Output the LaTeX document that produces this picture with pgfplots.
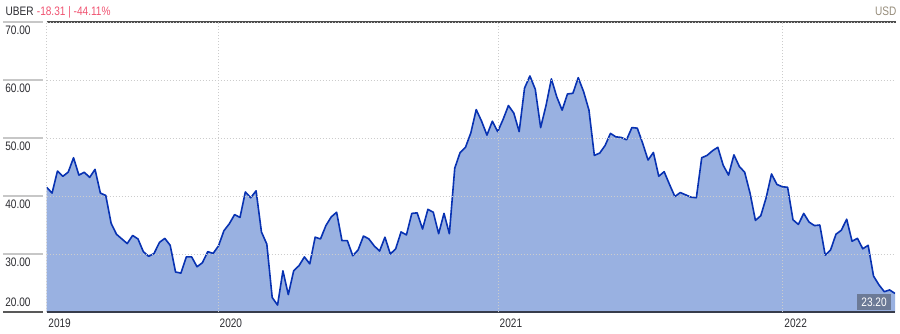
\documentclass[border=0pt]{standalone}
\usepackage{pgfplots}
\pgfplotsset{compat=1.18}
\usepackage{pgfplotstable}
\usepackage{fontspec}
\setmainfont{Liberation Sans}[FakeStretch=0.82]
\definecolor{fillc}{RGB}{153,177,225}
\definecolor{linec}{RGB}{8,50,178}
\definecolor{redc}{RGB}{240,82,112}
\definecolor{usdc}{RGB}{150,140,122}
\definecolor{boxc}{RGB}{108,122,150}
\definecolor{txt}{RGB}{45,45,50}
\definecolor{axc}{RGB}{55,60,75}

\pgfplotstableread{
k p
0 41.5
1 40.5
2 44.3
3 43.4
4 44.1
5 46.6
6 43.6
7 44.1
8 43.2
9 44.6
10 40.5
11 40.1
12 35.3
13 33.4
14 32.6
15 31.8
16 33.2
17 32.6
18 30.4
19 29.6
20 30.1
21 32.0
22 32.7
23 31.5
24 26.9
25 26.7
26 29.5
27 29.5
28 27.8
29 28.5
30 30.4
31 30.1
32 31.4
33 34.0
34 35.2
35 36.8
36 36.3
37 40.7
38 39.7
39 40.9
40 33.8
41 31.7
42 22.5
43 21.2
44 27.1
45 23.0
46 27.1
47 28.0
48 29.5
49 28.3
50 32.9
51 32.6
52 34.9
53 36.4
54 37.2
55 32.3
56 32.3
57 29.7
58 30.7
59 33.1
60 32.6
61 31.4
62 30.5
63 32.9
64 30.0
65 30.9
66 33.8
67 33.3
68 37.0
69 37.1
70 34.3
71 37.7
72 37.2
73 33.5
74 37.0
75 33.5
76 44.8
77 47.5
78 48.4
79 50.9
80 54.9
81 52.9
82 50.5
83 52.9
84 51.1
85 53.2
86 55.6
87 54.3
88 51.1
89 58.6
90 60.7
91 58.4
92 51.8
93 55.6
94 60.2
95 57.1
96 54.8
97 57.6
98 57.7
99 60.4
100 58.0
101 54.8
102 47.0
103 47.4
104 48.7
105 50.8
106 50.2
107 50.1
108 49.7
109 51.8
110 51.7
111 49.1
112 46.2
113 47.5
114 43.4
115 44.2
116 42.0
117 39.9
118 40.6
119 40.2
120 39.8
121 39.7
122 46.6
123 47.0
124 47.8
125 48.4
126 45.3
127 43.6
128 47.1
129 45.1
130 44.1
131 40.5
132 35.8
133 36.6
134 39.7
135 43.8
136 42.0
137 41.6
138 41.5
139 35.9
140 35.1
141 37.0
142 35.5
143 34.9
144 35.0
145 29.8
146 30.7
147 33.4
148 34.1
149 36.0
150 32.2
151 32.7
152 30.9
153 31.5
154 26.2
155 24.7
156 23.5
157 23.8
158 23.2
}\uber

\begin{document}
\begin{tikzpicture}[x=1pt,y=1pt]
\useasboundingbox (0,0) rectangle (900,333);
\begin{axis}[
  at={(46.7pt,21pt)}, anchor=south west,
  scale only axis, width=848.3pt, height=290pt,
  xmin=0, xmax=158, ymin=20, ymax=70,
  clip mode=individual,
  axis on top,
  axis line style={draw=none},
  xtick pos=bottom, ytick pos=left,
  /pgf/number format/assume math mode=true,
  ticklabel style={font=\fontsize{12.3}{13}\selectfont, text=txt, inner sep=0pt},
  xtick={0,31.9,84.06,137.1},
  xticklabels={2019,2020,2021,2022},
  xtick style={draw=none},
  xticklabel style={anchor=north west, xshift=1.5pt, yshift=-7pt},
  ytick={30,40,50,60,70},
  yticklabels={30.00,40.00,50.00,60.00,70.00},
  tick align=inside, major tick length=40pt,
  ytick style={draw=black!22, line width=1.2pt, xshift=-43.4pt},
  yticklabel style={anchor=north west, xshift=-41.6pt, yshift=-4pt},
  extra y ticks={20},
  extra y tick labels={20.00},
  extra y tick style={
    yticklabel style={anchor=south west, yshift=9pt},
    ytick style={draw=black!65},
    ymajorgrids=false},
  grid=major,
  major grid style={draw=black!20, line width=0.8pt, dash pattern=on 1pt off 2pt},
]
\addplot[fill=fillc, draw=none] table[x=k, y=p] {\uber} \closedcycle;
\addplot[draw=linec, line width=1.6pt, line join=round]
  table[x=k, y=p] {\uber}
  node[pos=1, anchor=north east, xshift=-3.5pt, fill=boxc, text=white,
       font=\fontsize{12.3}{13}\selectfont, inner xsep=4pt, inner ysep=0pt,
       minimum height=16pt, text height=8.8pt, text depth=0pt] {23.20};
\draw[draw=axc, line width=1.6pt] (rel axis cs:0,0) -- (rel axis cs:1,0);
\draw[draw=black!70, line width=1.5pt] (rel axis cs:0,1) -- (rel axis cs:1.001,1);
\end{axis}
\node[anchor=base west, inner sep=0pt, text=txt, font=\fontsize{12.3}{13}\selectfont] at (5.5,317.3) {UBER};
\node[anchor=base west, inner sep=0pt, text=redc, font=\fontsize{12.3}{13}\selectfont] at (36.7,317.3) {-18.31 | -44.11\%};
\node[anchor=base east, inner sep=0pt, text=usdc, font=\fontsize{12.3}{13}\selectfont] at (896.5,317.3) {USD};
\end{tikzpicture}
\end{document}
